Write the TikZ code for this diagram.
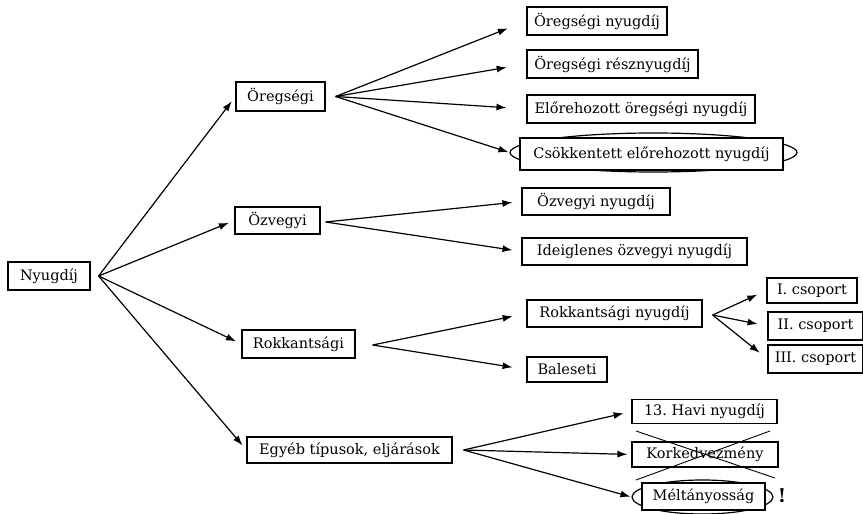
\documentclass[tikz,border=0pt]{standalone}
\usepackage{fontspec}
\setmainfont{DejaVu Serif}
\usetikzlibrary{arrows.meta, shapes.geometric, calc}
\tikzset{
  % Plain framed label box.
  item-box/.style={
    rectangle, draw=black, line width=1.2pt,
    fill=white, inner sep=0pt,
    minimum height=27pt,
    font=\fontsize{14.5}{17}\selectfont,
    text=black,
  },
  % Ellipse drawn round a highlighted box.
  oval-ring/.style={
    ellipse, draw=black, line width=1.2pt, inner sep=0pt,
  },
  % Arrows (#1 = gap left before the target).
  flow/.style={
    -{Latex[length=10pt, width=7pt]},
    line width=1.2pt,
    shorten >=#1,
  },
  flow/.default=6pt,
  % Lines that cross a box out.
  strike/.style={line width=0.9pt},
}

\begin{document}
\begin{tikzpicture}[x=1pt, y=-1pt]
  \useasboundingbox (0,0) rectangle (863,514);

  % Root and the four main kinds.
  \node[item-box, minimum width=82, minimum height=28] (nyugdij) at (49, 276) {Nyugdíj};
  \node[item-box, minimum width=89, minimum height=29] (oreg)  at (280.5, 96.5) {Öregségi};
  \node[item-box, minimum width=85] (ozv)   at (277.5, 220.5) {Özvegyi};
  \node[item-box, minimum width=113, minimum height=28] (rokk)  at (298.5, 344) {Rokkantsági};
  \node[item-box, minimum width=205, minimum height=26] (egyeb) at (349.5, 450) {Egyéb típusok, eljárások};

  % Öregségi branch.
  \node[item-box, minimum width=140, minimum height=28] (oregny)   at (597, 21)    {Öregségi nyugdíj};
  \node[item-box, minimum width=171, minimum height=28] (oregresz) at (612.5, 64)  {Öregségi résznyugdíj};
  \node[item-box, minimum width=228, minimum height=28] (elore)    at (641, 109)   {Előrehozott öregségi nyugdíj};
  \node[oval-ring, minimum width=287, minimum height=39] (csokk-ring) at (653.5, 152.5) {};
  \node[item-box, minimum width=263, minimum height=32] (csokk)    at (651.5, 154) {Csökkentett előrehozott nyugdíj};

  % Özvegyi branch.
  \node[item-box, minimum width=148] (ozvny) at (596, 201.5)   {Özvegyi nyugdíj};
  \node[item-box, minimum width=225] (ideig) at (634.5, 251.5) {Ideiglenes özvegyi nyugdíj};

  % Rokkantsági branch.
  \node[item-box, minimum width=175] (rokkny)   at (614.5, 313.5) {Rokkantsági nyugdíj};
  \node[item-box, minimum width=80, minimum height=25] (baleseti) at (567, 369.5) {Baleseti};
  \node[item-box, minimum width=90, minimum height=25] (cs1) at (812, 290.5)  {I. csoport};
  \node[item-box, minimum width=95, minimum height=28] (cs2) at (815.5, 326) {II. csoport};
  \node[item-box, minimum width=95, minimum height=28] (cs3) at (815.5, 359) {III. csoport};

  % Egyéb branch.
  \node[item-box, minimum width=145, minimum height=24] (havi) at (704.5, 411.5) {13.\ Havi nyugdíj};
  \node[item-box, minimum width=146, minimum height=25] (kork) at (705, 454.5)   {Korkedvezmény};
  \node[oval-ring, minimum width=141, minimum height=34] (melt-ring) at (702.5, 497) {};
  \node[item-box, minimum width=123] (melt) at (703.5, 496.5) {Méltányosság};
  \node[font=\fontsize{19}{20}\selectfont\bfseries, inner sep=0pt] (bang) at (782, 496) {!};

  % Start points of the fans.
  \coordinate (nyugdij-out) at ([xshift=8pt]nyugdij.east);
  \coordinate (oreg-out)    at ([xshift=10pt]oreg.east);
  \coordinate (ozv-out)     at ([xshift=5pt, yshift=-1.5pt]ozv.east);
  \coordinate (rokk-out)    at ([xshift=17pt, yshift=-1pt]rokk.east);
  \coordinate (egyeb-out)   at ([xshift=11pt]egyeb.east);
  \coordinate (rokkny-out)  at ([xshift=10pt, yshift=-1.5pt]rokkny.east);

  \foreach \to in {oreg, ozv, rokk, egyeb}
    \draw[flow] (nyugdij-out) -- (\to.west);

  \foreach \to in {oregny, oregresz, elore}
    \draw[flow=20pt] (oreg-out) -- (\to.west);
  \draw[flow=1pt] (oreg-out) -- (csokk-ring.west);

  \foreach \to in {ozvny, ideig}
    \draw[flow=9pt] (ozv-out) -- (\to.west);

  \foreach \to in {rokkny, baleseti}
    \draw[flow=14pt] (rokk-out) -- (\to.west);

  \foreach \to in {cs1, cs2, cs3}
    \draw[flow=10pt] (rokkny-out) -- (\to.west);

  \draw[flow=8pt] (egyeb-out) -- (havi.west);
  \draw[flow=4pt] (egyeb-out) -- (kork.west);
  \draw[flow=1pt] (egyeb-out) -- (melt-ring.west);

  % Korkedvezmény crossed out.
  \draw[strike] ($(kork.center)+(-69,-23.5)$) -- ($(kork.center)+(70,23.5)$);
  \draw[strike] ($(kork.center)+(65,-23.5)$) -- ($(kork.center)+(-69,25.5)$);

\end{tikzpicture}
\end{document}
